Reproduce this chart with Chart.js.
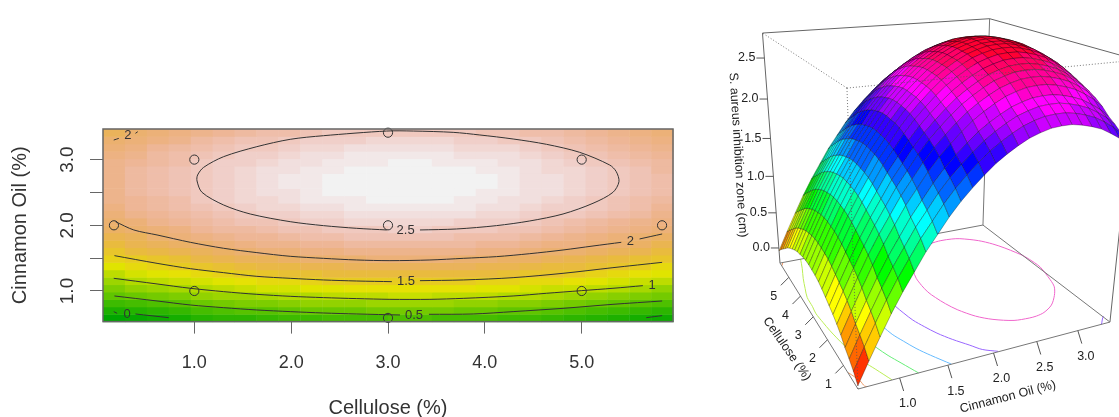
<!DOCTYPE html>
<html>
<head>
<meta charset="utf-8">
<title>Cellulose and cinnamon oil response surface</title>
<script src="https://cdn.jsdelivr.net/npm/chart.js@4"></script>
<style>
    html, body { margin: 0; padding: 0; background: #fff; overflow: hidden; }
    canvas { position: absolute; top: 0; }
    #contourChart { left: 0; }
    #surfaceChart { left: 700px; }
</style>
</head>
<body>
<canvas id="contourChart" width="700" height="417"></canvas>
<canvas id="surfaceChart" width="419" height="417"></canvas>
<script>
// grid of the fitted response, columns are cellulose, rows are cinnamon oil
const cellulose = [0.17, 0.396, 0.623, 0.849, 1.076, 1.302, 1.528, 1.755, 1.981, 2.208, 2.434, 2.66, 2.887, 3.113, 3.34, 3.566, 3.792, 4.019, 4.245, 4.472, 4.698, 4.925, 5.151, 5.377, 5.604, 5.83];
const cinnamon = [0.59, 0.703, 0.816, 0.928, 1.041, 1.154, 1.267, 1.38, 1.492, 1.605, 1.718, 1.831, 1.944, 2.056, 2.169, 2.282, 2.395, 2.508, 2.62, 2.733, 2.846, 2.959, 3.072, 3.184, 3.297, 3.41];
const inhibitionZone = [
    [-0.18, -0.09, -0.02, 0.04, 0.12, 0.18, 0.23, 0.27, 0.31, 0.35, 0.38, 0.40, 0.41, 0.42, 0.42, 0.41, 0.39, 0.37, 0.34, 0.30, 0.26, 0.21, 0.15, 0.09, 0.03, -0.04],
    [0.07, 0.16, 0.23, 0.29, 0.37, 0.43, 0.48, 0.52, 0.56, 0.60, 0.63, 0.65, 0.66, 0.67, 0.67, 0.66, 0.64, 0.62, 0.59, 0.55, 0.51, 0.46, 0.40, 0.34, 0.28, 0.21],
    [0.31, 0.40, 0.47, 0.53, 0.61, 0.67, 0.72, 0.76, 0.80, 0.84, 0.87, 0.89, 0.90, 0.91, 0.91, 0.90, 0.88, 0.86, 0.83, 0.79, 0.75, 0.70, 0.64, 0.58, 0.52, 0.45],
    [0.54, 0.63, 0.70, 0.76, 0.84, 0.90, 0.95, 0.99, 1.03, 1.07, 1.10, 1.12, 1.13, 1.14, 1.14, 1.13, 1.11, 1.09, 1.06, 1.02, 0.98, 0.93, 0.87, 0.81, 0.75, 0.68],
    [0.75, 0.84, 0.91, 0.97, 1.05, 1.11, 1.16, 1.20, 1.24, 1.28, 1.31, 1.33, 1.34, 1.35, 1.35, 1.34, 1.32, 1.30, 1.27, 1.23, 1.19, 1.14, 1.08, 1.02, 0.96, 0.89],
    [0.94, 1.03, 1.10, 1.16, 1.24, 1.30, 1.35, 1.39, 1.43, 1.47, 1.50, 1.52, 1.53, 1.54, 1.54, 1.53, 1.51, 1.49, 1.46, 1.42, 1.38, 1.33, 1.27, 1.21, 1.15, 1.08],
    [1.13, 1.22, 1.29, 1.35, 1.43, 1.49, 1.54, 1.58, 1.62, 1.66, 1.69, 1.71, 1.72, 1.73, 1.73, 1.72, 1.70, 1.68, 1.65, 1.61, 1.57, 1.52, 1.46, 1.40, 1.34, 1.27],
    [1.29, 1.38, 1.45, 1.51, 1.59, 1.65, 1.70, 1.74, 1.78, 1.82, 1.85, 1.87, 1.88, 1.89, 1.89, 1.88, 1.86, 1.84, 1.81, 1.77, 1.73, 1.68, 1.62, 1.56, 1.50, 1.43],
    [1.45, 1.54, 1.61, 1.67, 1.75, 1.81, 1.86, 1.90, 1.94, 1.98, 2.01, 2.03, 2.04, 2.05, 2.05, 2.04, 2.02, 2.00, 1.97, 1.93, 1.89, 1.84, 1.78, 1.72, 1.66, 1.59],
    [1.59, 1.68, 1.75, 1.81, 1.89, 1.95, 2.00, 2.04, 2.08, 2.12, 2.15, 2.17, 2.18, 2.19, 2.19, 2.18, 2.16, 2.14, 2.11, 2.07, 2.03, 1.98, 1.92, 1.86, 1.80, 1.73],
    [1.71, 1.80, 1.87, 1.93, 2.01, 2.07, 2.12, 2.16, 2.20, 2.24, 2.27, 2.29, 2.30, 2.31, 2.31, 2.30, 2.28, 2.26, 2.23, 2.19, 2.15, 2.10, 2.04, 1.98, 1.92, 1.85],
    [1.82, 1.91, 1.98, 2.04, 2.12, 2.18, 2.23, 2.27, 2.31, 2.35, 2.38, 2.40, 2.41, 2.42, 2.42, 2.41, 2.39, 2.37, 2.34, 2.30, 2.26, 2.21, 2.15, 2.09, 2.03, 1.96],
    [1.92, 2.01, 2.08, 2.14, 2.22, 2.28, 2.33, 2.37, 2.41, 2.45, 2.48, 2.50, 2.51, 2.52, 2.52, 2.51, 2.49, 2.47, 2.44, 2.40, 2.36, 2.31, 2.25, 2.19, 2.13, 2.06],
    [2.00, 2.09, 2.16, 2.22, 2.30, 2.36, 2.41, 2.45, 2.49, 2.53, 2.56, 2.58, 2.59, 2.60, 2.60, 2.59, 2.57, 2.55, 2.52, 2.48, 2.44, 2.39, 2.33, 2.27, 2.21, 2.14],
    [2.07, 2.16, 2.23, 2.29, 2.37, 2.43, 2.48, 2.52, 2.56, 2.60, 2.63, 2.65, 2.66, 2.67, 2.67, 2.66, 2.64, 2.62, 2.59, 2.55, 2.51, 2.46, 2.40, 2.34, 2.28, 2.21],
    [2.13, 2.22, 2.29, 2.35, 2.43, 2.49, 2.54, 2.58, 2.62, 2.66, 2.69, 2.71, 2.72, 2.73, 2.73, 2.72, 2.70, 2.68, 2.65, 2.61, 2.57, 2.52, 2.46, 2.40, 2.34, 2.27],
    [2.17, 2.26, 2.33, 2.39, 2.47, 2.53, 2.58, 2.62, 2.66, 2.70, 2.73, 2.75, 2.76, 2.77, 2.77, 2.76, 2.74, 2.72, 2.69, 2.65, 2.61, 2.56, 2.50, 2.44, 2.38, 2.31],
    [2.20, 2.29, 2.36, 2.42, 2.50, 2.56, 2.61, 2.65, 2.69, 2.73, 2.76, 2.78, 2.79, 2.80, 2.80, 2.79, 2.77, 2.75, 2.72, 2.68, 2.64, 2.59, 2.53, 2.47, 2.41, 2.34],
    [2.21, 2.30, 2.37, 2.43, 2.51, 2.57, 2.62, 2.66, 2.70, 2.74, 2.77, 2.79, 2.80, 2.81, 2.81, 2.80, 2.78, 2.76, 2.73, 2.69, 2.65, 2.60, 2.54, 2.48, 2.42, 2.35],
    [2.21, 2.30, 2.37, 2.43, 2.51, 2.57, 2.62, 2.66, 2.70, 2.74, 2.77, 2.79, 2.80, 2.81, 2.81, 2.80, 2.78, 2.76, 2.73, 2.69, 2.65, 2.60, 2.54, 2.48, 2.42, 2.35],
    [2.19, 2.28, 2.35, 2.41, 2.49, 2.55, 2.60, 2.64, 2.68, 2.72, 2.75, 2.77, 2.78, 2.79, 2.79, 2.78, 2.76, 2.74, 2.71, 2.67, 2.63, 2.58, 2.52, 2.46, 2.40, 2.33],
    [2.16, 2.25, 2.32, 2.38, 2.46, 2.52, 2.57, 2.61, 2.65, 2.69, 2.72, 2.74, 2.75, 2.76, 2.76, 2.75, 2.73, 2.71, 2.68, 2.64, 2.60, 2.55, 2.49, 2.43, 2.37, 2.30],
    [2.12, 2.21, 2.28, 2.34, 2.42, 2.48, 2.53, 2.57, 2.61, 2.65, 2.68, 2.70, 2.71, 2.72, 2.72, 2.71, 2.69, 2.67, 2.64, 2.60, 2.56, 2.51, 2.45, 2.39, 2.33, 2.26],
    [2.06, 2.15, 2.22, 2.28, 2.36, 2.42, 2.47, 2.51, 2.55, 2.59, 2.62, 2.64, 2.65, 2.66, 2.66, 2.65, 2.63, 2.61, 2.58, 2.54, 2.50, 2.45, 2.39, 2.33, 2.27, 2.20],
    [1.99, 2.08, 2.15, 2.21, 2.29, 2.35, 2.40, 2.44, 2.48, 2.52, 2.55, 2.57, 2.58, 2.59, 2.59, 2.58, 2.56, 2.54, 2.51, 2.47, 2.43, 2.38, 2.32, 2.26, 2.20, 2.13],
    [1.90, 1.99, 2.06, 2.12, 2.20, 2.26, 2.31, 2.35, 2.39, 2.43, 2.46, 2.48, 2.49, 2.50, 2.50, 2.49, 2.47, 2.45, 2.42, 2.38, 2.34, 2.29, 2.23, 2.17, 2.11, 2.04]
];

// design points of the experiment
const designCellulose = [1, 1, 5, 5, 3, 3, 3, 0.17, 5.83];
const designCinnamon = [1, 3, 1, 3, 2, 0.59, 3.41, 2, 2];

// contour lines as [cellulose, cinnamon]
const contour25 = [[3.33, 1.929], [3.708, 1.944], [4.12, 1.995], [4.464, 2.066], [4.807, 2.172], [5.117, 2.335], [5.323, 2.502], [5.385, 2.664], [5.357, 2.817], [5.289, 2.918], [4.979, 3.111], [4.636, 3.233], [4.292, 3.314], [3.948, 3.375], [3.673, 3.415], [3.261, 3.435], [2.986, 3.435], [2.333, 3.364], [1.99, 3.309], [1.646, 3.197], [1.303, 3.045], [1.096, 2.882], [1.034, 2.766], [1.028, 2.675], [1.079, 2.502], [1.303, 2.309], [1.578, 2.172], [1.99, 2.055], [2.333, 1.995], [2.677, 1.954], [2.986, 1.929]];
const contour2Main = [[0.186, 2.055], [0.375, 1.929], [0.615, 1.853], [0.959, 1.741], [1.303, 1.65], [1.646, 1.584], [1.99, 1.528], [2.333, 1.497], [2.677, 1.472], [3.02, 1.462], [3.433, 1.472], [3.777, 1.497], [4.12, 1.523], [4.464, 1.568], [4.807, 1.624], [5.117, 1.685], [5.409, 1.741]];
const contour2End = [[5.598, 1.792], [5.831, 1.868]];
const contour2CornerA = [[0.168, 3.298], [0.22, 3.323]];
const contour2CornerB = [[0.392, 3.4], [0.416, 3.425]];
const contour15Left = [[0.175, 1.538], [0.615, 1.421], [0.959, 1.34], [1.303, 1.279], [1.646, 1.223], [1.99, 1.193], [2.333, 1.168], [2.677, 1.152], [3.04, 1.142]];
const contour15Right = [[3.33, 1.157], [3.777, 1.168], [4.292, 1.203], [4.807, 1.269], [5.323, 1.355], [5.831, 1.436]];
const contour1 = [[0.168, 1.193], [0.615, 1.107], [0.959, 1.041], [1.303, 0.99], [1.646, 0.949], [1.99, 0.919], [2.333, 0.899], [2.677, 0.884], [3.02, 0.873], [3.433, 0.873], [3.777, 0.888], [4.292, 0.924], [4.636, 0.965], [4.996, 1.005], [5.323, 1.041], [5.632, 1.081]];
const contour05Left = [[0.175, 0.924], [0.615, 0.848], [0.959, 0.787], [1.303, 0.746], [1.646, 0.711], [1.99, 0.686], [2.333, 0.665], [2.677, 0.65], [3.124, 0.635]];
const contour05Right = [[3.423, 0.645], [3.88, 0.65], [4.292, 0.686], [4.807, 0.736], [5.323, 0.797], [5.831, 0.848]];
const contour0Tick = [[0.168, 0.686], [0.203, 0.66]];
const contour0Left = [[0.392, 0.65], [0.736, 0.594]];
const contour0Right = [[5.667, 0.594], [5.831, 0.625]];

const contourLabels = ['2.5', '2', '1.5', '1', '0.5', '0', '2'];
const contourLabelX = [3.182, 5.502, 3.186, 5.728, 3.268, 0.306, 0.313];
const contourLabelY = [1.929, 1.761, 1.142, 1.091, 0.635, 0.65, 3.364];

const contourTicksX = [1, 2, 3, 4, 5];
const contourTicksY = [1, 1.5, 2, 2.5, 3];
const surfaceTicksZ = [0, 0.5, 1, 1.5, 2, 2.5];
const surfaceTicksCellulose = [1, 2, 3, 4, 5];
const surfaceTicksCinnamon = [1, 1.5, 2, 2.5, 3];

const heatBins = 50;
const surfaceBins = 30;
const zMin = -0.18;
const zMax = 2.81;

const hsvToRgb = (h, s, v) => {
    const f = n => {
        const k = (n + h / 60) % 6;
        return Math.round(255 * (v - v * s * Math.max(0, Math.min(k, 4 - k, 1))));
    };
    return `rgb(${f(5)}, ${f(3)}, ${f(1)})`;
};

// terrain.colors: green to yellow, then yellow to white, cut into bins
const heatColor = (z) => {
    const bin = Math.min(heatBins - 1, Math.floor((z - zMin) / (zMax - zMin) * heatBins));
    const t = bin / (heatBins - 1);
    if (t < 0.5) return hsvToRgb(120 - 120 * t, 1, 0.65 + 0.5 * t);
    return hsvToRgb(120 - 120 * t, 2 - 2 * t, 0.85 + 0.1 * t);
};

const rainbowColor = (z) => {
    const bin = Math.min(surfaceBins - 1, Math.floor((z - zMin) / (zMax - zMin) * surfaceBins));
    return `hsl(${bin / surfaceBins * 360}, 100%, 50%)`;
};

const toPoints = line => line.map(p => ({ x: p[0], y: p[1] }));

const contourLine = line => ({
    data: toPoints(line),
    showLine: true,
    tension: 0.3,
    borderColor: '#333',
    borderWidth: 1,
    pointRadius: 0,
    clip: false
});

// left panel cells, drawn under the contour lines
const heatPlugin = {
    id: 'heatCells',
    beforeDatasetsDraw(chart) {
        const { ctx, scales: { x, y } } = chart;
        const halfX = (cellulose[1] - cellulose[0]) / 2;
        const halfY = (cinnamon[1] - cinnamon[0]) / 2;
        inhibitionZone.forEach((row, r) => {
            row.forEach((z, c) => {
                const left = x.getPixelForValue(cellulose[c] - halfX);
                const right = x.getPixelForValue(cellulose[c] + halfX);
                const top = y.getPixelForValue(cinnamon[r] + halfY);
                const bottom = y.getPixelForValue(cinnamon[r] - halfY);
                ctx.fillStyle = heatColor(z);
                ctx.fillRect(left, top, right - left + 0.5, bottom - top + 0.5);
            });
        });
    },
    afterDatasetsDraw(chart) {
        const { ctx, chartArea, scales: { x, y } } = chart;
        ctx.save();
        ctx.strokeStyle = '#666';
        ctx.lineWidth = 1.5;
        ctx.strokeRect(chartArea.left, chartArea.top, chartArea.width, chartArea.height);
        ctx.fillStyle = '#333';
        ctx.font = '13px "Liberation Sans"';
        ctx.textAlign = 'center';
        ctx.textBaseline = 'middle';
        contourLabels.forEach((label, i) => {
            ctx.fillText(label, x.getPixelForValue(contourLabelX[i]), y.getPixelForValue(contourLabelY[i]));
        });
        ctx.restore();
    }
};

new Chart(document.getElementById('contourChart').getContext('2d'), {
    type: 'scatter',
    data: {
        datasets: [
            contourLine(contour25),
            contourLine(contour2Main),
            contourLine(contour2End),
            contourLine(contour2CornerA),
            contourLine(contour2CornerB),
            contourLine(contour15Left),
            contourLine(contour15Right),
            contourLine(contour1),
            contourLine(contour05Left),
            contourLine(contour05Right),
            contourLine(contour0Tick),
            contourLine(contour0Left),
            contourLine(contour0Right),
            {
                data: designCellulose.map((c, i) => ({ x: c, y: designCinnamon[i] })),
                pointRadius: 4.6,
                pointBackgroundColor: 'transparent',
                pointBorderColor: '#333',
                pointBorderWidth: 1,
                clip: false
            }
        ]
    },
    options: {
        responsive: false,
        animation: false,
        layout: { padding: { top: 129, right: 27 } },
        plugins: { legend: { display: false }, tooltip: { enabled: false } },
        scales: {
            x: {
                type: 'linear',
                min: 0.057,
                max: 5.943,
                afterBuildTicks: scale => { scale.ticks = contourTicksX.map(value => ({ value })); },
                afterFit: scale => { scale.height = 95.4; },
                grid: { drawOnChartArea: false, tickLength: 12, color: '#666', tickColor: '#666' },
                border: { display: false },
                ticks: {
                    color: '#333',
                    padding: 19,
                    maxRotation: 0,
                    autoSkip: false,
                    font: { family: 'Liberation Sans', size: 18 },
                    callback: v => v.toFixed(1)
                },
                title: {
                    display: true,
                    text: 'Cellulose (%)',
                    color: '#333',
                    font: { family: 'Liberation Sans', size: 20 },
                    padding: { top: 0, bottom: -3 }
                }
            },
            y: {
                type: 'linear',
                min: 0.534,
                max: 3.466,
                afterBuildTicks: scale => { scale.ticks = contourTicksY.map(value => ({ value })); },
                afterFit: scale => { scale.width = 103; },
                grid: { drawOnChartArea: false, tickLength: 13, color: '#666', tickColor: '#666' },
                border: { display: false },
                ticks: {
                    color: '#333',
                    padding: 9,
                    minRotation: 90,
                    maxRotation: 90,
                    crossAlign: 'center',
                    autoSkip: false,
                    font: { family: 'Liberation Sans', size: 19 },
                    callback: v => (Number.isInteger(v) ? v.toFixed(1) : '')
                },
                title: {
                    display: true,
                    text: 'Cinnamon Oil (%)',
                    color: '#333',
                    font: { family: 'Liberation Sans', size: 20 },
                    padding: { top: 8, bottom: 0 }
                }
            }
        }
    },
    plugins: [heatPlugin]
});

// perspective view of the right panel, fitted to the corners of its box
const project = (cell, cinn, z) => {
    const u = (cell - 0.17) / 5.66;
    const v = (cinn - 0.59) / 2.82;
    const w = 0.0728 + 0.3317 * z;
    const d = 1 + 0.3441 * u + 0.1642 * v - 0.148 * w;
    return {
        x: (858 + 190.4 * u + 434.2 * v - 136.4 * w) / d,
        y: (389 - 35.5 * u - 14.1 * v - 314 * w) / d,
        depth: d
    };
};

const boxFloor = -0.22;
const boxTop = 2.795;
const A = project(0.17, 0.59, boxFloor);
const B = project(5.83, 0.59, boxFloor);
const C = project(0.17, 3.41, boxFloor);
const D = project(5.83, 3.41, boxFloor);
const E = project(0.17, 0.59, boxTop);
const F = project(5.83, 0.59, boxTop);
const G = project(5.83, 3.41, boxTop);
const H = project(0.17, 3.41, boxTop);

const floorLine = (line, color) => ({
    data: line.map(p => project(p[0], p[1], boxFloor)),
    showLine: true,
    tension: 0.3,
    borderColor: color,
    borderWidth: 1,
    pointRadius: 0
});

const edge = (points, color) => ({
    data: points,
    showLine: true,
    borderColor: color,
    borderWidth: 1,
    pointRadius: 0
});

const surfacePlugin = {
    id: 'surface3d',
    afterDatasetsDraw(chart) {
        const { ctx, scales: { x, y } } = chart;
        const px = p => [x.getPixelForValue(p.x), y.getPixelForValue(p.y)];
        const line = (a, b) => {
            const [ax, ay] = px(a);
            const [bx, by] = px(b);
            ctx.beginPath();
            ctx.moveTo(ax, ay);
            ctx.lineTo(bx, by);
            ctx.stroke();
        };
        const facets = [];
        for (let r = 0; r < cinnamon.length - 1; r++) {
            for (let c = 0; c < cellulose.length - 1; c++) {
                const zs = [inhibitionZone[r][c], inhibitionZone[r][c + 1], inhibitionZone[r + 1][c + 1], inhibitionZone[r + 1][c]];
                const corners = [
                    project(cellulose[c], cinnamon[r], zs[0]),
                    project(cellulose[c + 1], cinnamon[r], zs[1]),
                    project(cellulose[c + 1], cinnamon[r + 1], zs[2]),
                    project(cellulose[c], cinnamon[r + 1], zs[3])
                ];
                facets.push({
                    corners,
                    mean: (zs[0] + zs[1] + zs[2] + zs[3]) / 4,
                    depth: (corners[0].depth + corners[1].depth + corners[2].depth + corners[3].depth) / 4
                });
            }
        }
        // far facets first
        facets.sort((a, b) => b.depth - a.depth);
        ctx.save();
        ctx.lineWidth = 0.55;
        ctx.strokeStyle = 'rgba(0, 0, 0, 0.55)';
        facets.forEach((f) => {
            ctx.beginPath();
            f.corners.forEach((p, i) => {
                const [fx, fy] = px(p);
                if (i === 0) ctx.moveTo(fx, fy); else ctx.lineTo(fx, fy);
            });
            ctx.closePath();
            ctx.fillStyle = rainbowColor(f.mean);
            ctx.fill();
            ctx.stroke();
        });

        // hidden edges of the box show through as dots
        ctx.setLineDash([1, 2]);
        ctx.lineWidth = 0.8;
        ctx.strokeStyle = '#555';
        line(E, F);
        line(E, H);
        line(E, A);
        ctx.setLineDash([]);

        // axis ticks and labels
        ctx.strokeStyle = '#555';
        ctx.lineWidth = 1;
        ctx.fillStyle = '#222';
        ctx.font = '12.5px "Liberation Sans"';
        ctx.textBaseline = 'middle';
        ctx.textAlign = 'right';
        surfaceTicksZ.forEach((z) => {
            const p = project(5.83, 0.59, z);
            line(p, { x: p.x - 8, y: p.y });
            const [lx, ly] = px(p);
            ctx.fillText(z.toFixed(1), lx - 9, ly);
        });
        ctx.textAlign = 'center';
        surfaceTicksCellulose.forEach((c) => {
            const p = project(c, 0.59, boxFloor);
            line(p, { x: p.x - 8, y: p.y + 8 });
            const [lx, ly] = px(p);
            ctx.fillText(String(c), lx - 15, ly + 19);
        });
        surfaceTicksCinnamon.forEach((c) => {
            const p = project(0.17, c, boxFloor);
            line(p, { x: p.x + 4, y: p.y + 13 });
            const [lx, ly] = px(p);
            ctx.fillText(c.toFixed(1), lx + 8, ly + 26);
        });

        const rotated = (text, cx, cy, deg) => {
            ctx.save();
            ctx.translate(x.getPixelForValue(cx), y.getPixelForValue(cy));
            ctx.rotate(deg * Math.PI / 180);
            ctx.fillText(text, 0, 0);
            ctx.restore();
        };
        rotated('S. aureus inhibition zone (cm)', 738, 155, 86.5);
        rotated('Cellulose (%)', 787, 349, 55);
        rotated('Cinnamon Oil (%)', 1008, 397, -14.5);
        ctx.restore();
    }
};

new Chart(document.getElementById('surfaceChart').getContext('2d'), {
    type: 'scatter',
    data: {
        datasets: [
            edge([B, A, C], '#777'),
            edge([C, D, B], '#777'),
            edge([B, F, G, H, C], '#666'),
            edge([D, G], '#777'),
            floorLine(contour25.concat([contour25[0]]), '#F066CC'),
            floorLine(contour2Main.concat(contour2End), '#9966FF'),
            floorLine(contour2CornerA.concat(contour2CornerB), '#9966FF'),
            floorLine(contour15Left.concat(contour15Right), '#66BBFF'),
            floorLine(contour1, '#66EE77'),
            floorLine(contour05Left.concat(contour05Right), '#BBEE55'),
            floorLine(contour0Tick.concat(contour0Left), '#EE9966'),
            floorLine(contour0Right, '#EE9966')
        ]
    },
    options: {
        responsive: false,
        animation: false,
        layout: { padding: 0 },
        plugins: { legend: { display: false }, tooltip: { enabled: false } },
        scales: {
            x: { type: 'linear', min: 700, max: 1119, display: false },
            y: { type: 'linear', min: 0, max: 417, reverse: true, display: false }
        }
    },
    plugins: [surfacePlugin]
});
</script>
</body>
</html>
